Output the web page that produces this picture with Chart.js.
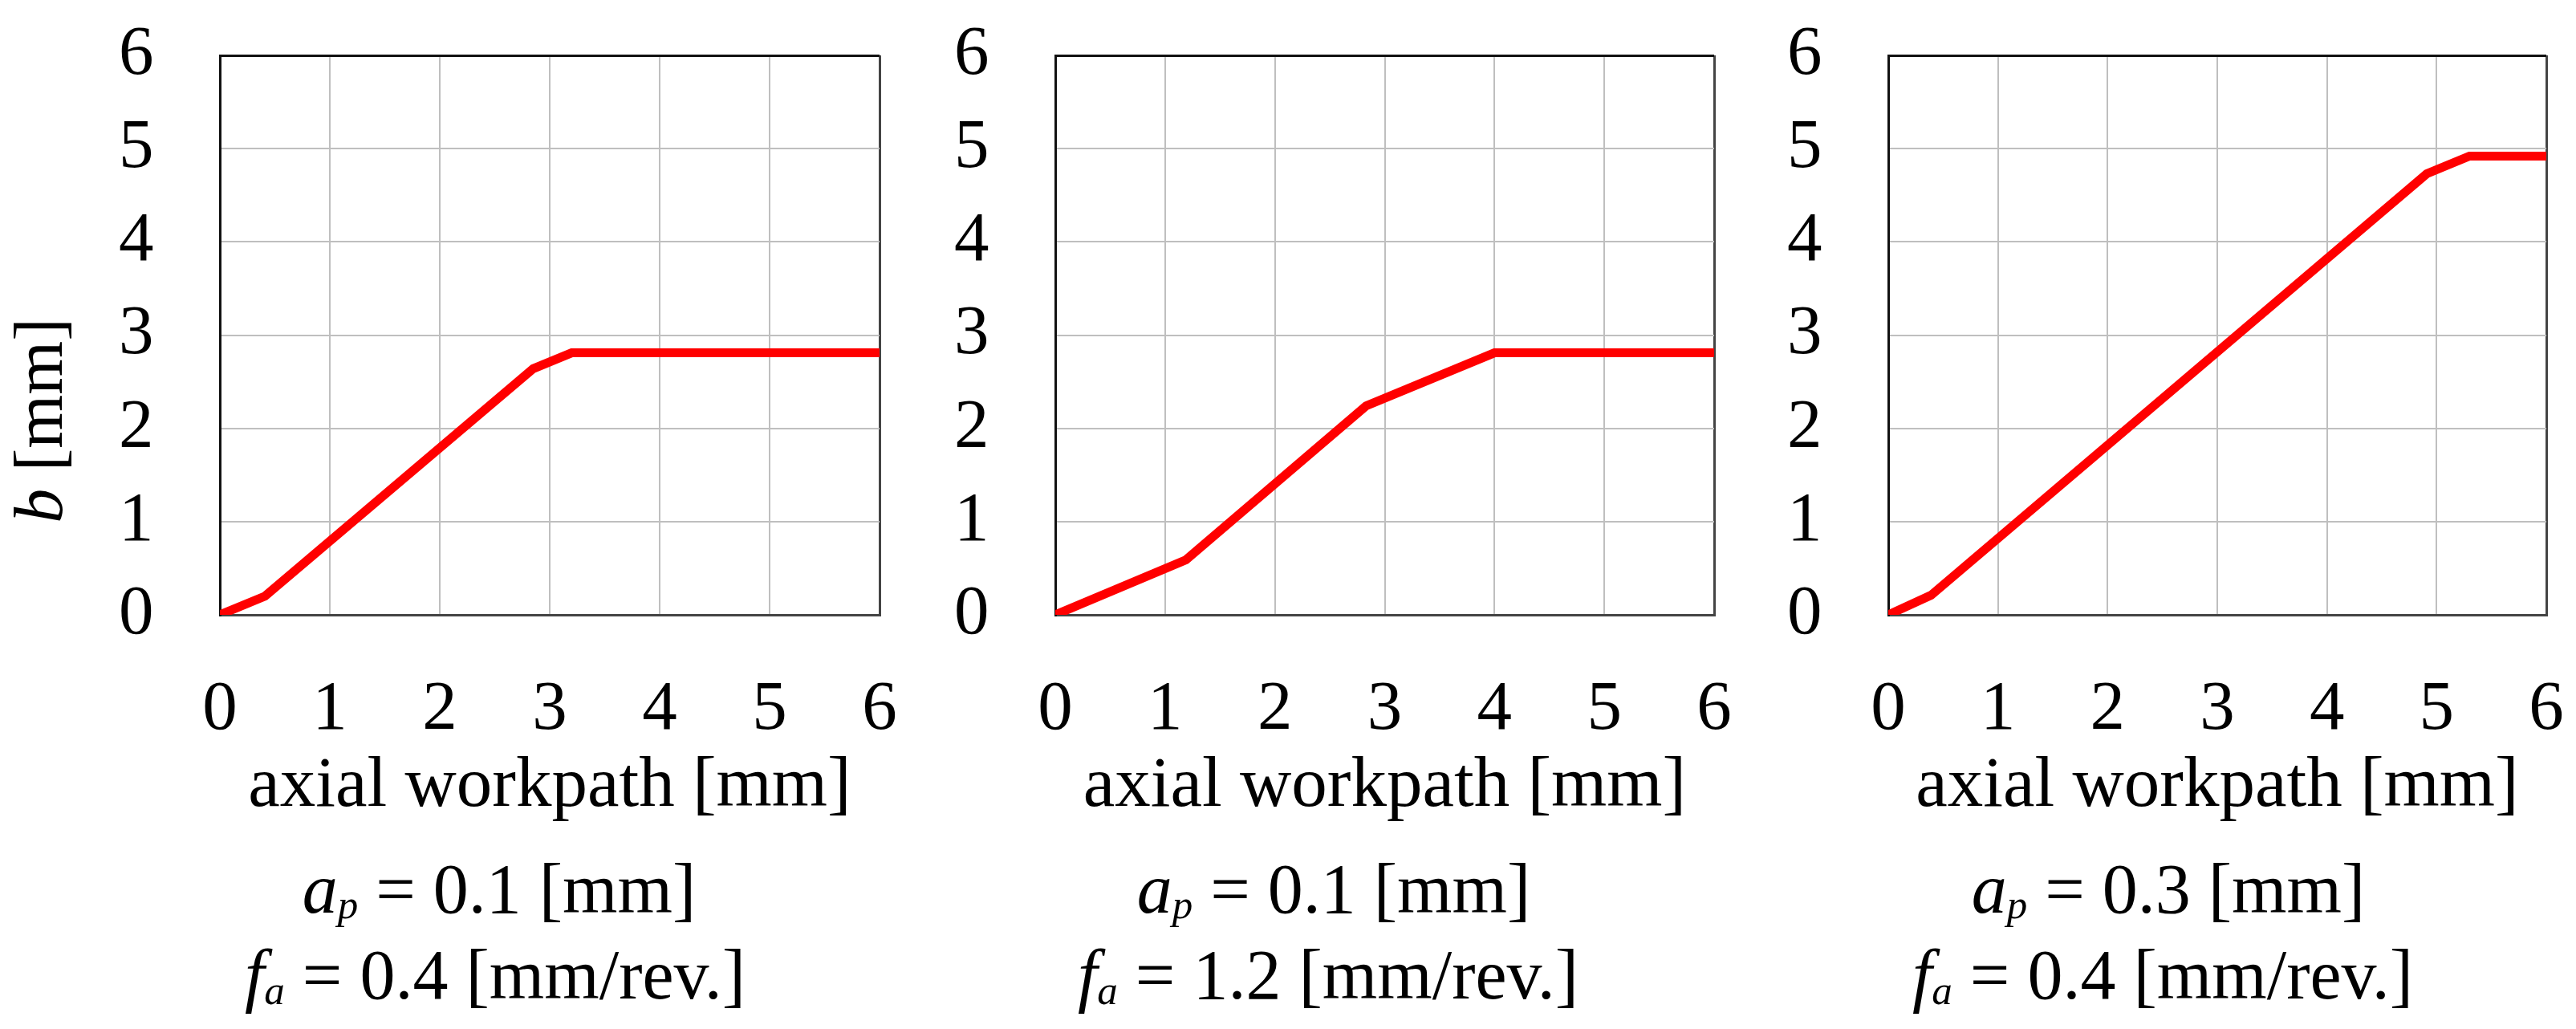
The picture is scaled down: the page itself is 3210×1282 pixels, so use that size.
<!DOCTYPE html>
<html>
<head>
<meta charset="utf-8">
<script src="https://cdn.jsdelivr.net/npm/chart.js@4.4.0/dist/chart.umd.min.js"></script>
<style>
html,body{margin:0;padding:0;background:#fff;}
#wrap{position:relative;width:3210px;height:1282px;overflow:hidden;font-family:'Liberation Serif','Times New Roman',serif;color:#000;background:#fff;}
#wrap canvas{position:absolute;top:0;}
.cap{position:absolute;width:900px;text-align:center;font-size:88px;line-height:100px;height:100px;white-space:nowrap;}
.cap sub{font-size:58%;line-height:0;vertical-align:baseline;position:relative;top:0.14em;font-style:italic;}
.ytitle{position:absolute;width:400px;height:100px;line-height:100px;font-size:86px;text-align:center;transform:rotate(-90deg);white-space:nowrap;}
</style>
</head>
<body>
<div id="wrap"></div>
<script>
// ---- data ----
const xTickLabels = ['0','1','2','3','4','5','6'];
const yTickLabels = ['0','1','2','3','4','5','6'];
const xAxisTitle = 'axial workpath [mm]';
const yAxisTitleVar = 'b';
const yAxisTitleUnit = ' [mm]';

const path1 = [0, 0.41, 2.85, 3.2, 6];
const width1 = [0, 0.2, 2.64, 2.81, 2.81];

const path2 = [0, 1.19, 2.83, 4.0, 6];
const width2 = [0, 0.59, 2.24, 2.81, 2.81];

const path3 = [0, 0.39, 4.91, 5.3, 6];
const width3 = [0, 0.21, 4.73, 4.92, 4.92];

const apValues = ['0.1', '0.1', '0.3'];
const faValues = ['0.4', '1.2', '0.4'];

// ---- layout (not data) ----
const canvasLefts = [0, 1041, 2079];
const plotWidths = [822, 821, 820];
const yLabelLeft = 148;
const yAxisW = 274 - yLabelLeft;
const canvasH = 1050;
const plotTop = 69;
const plotBottom = 766;
const rightPad = 40;
const cap1Centers = [622, 1662, 2702];
const cap2Centers = [617, 1655, 2695];

Chart.defaults.font.family = "'Liberation Serif','Times New Roman',serif";
Chart.defaults.color = '#000';

const wrap = document.getElementById('wrap');
const seriesX = [path1, path2, path3];
const seriesY = [width1, width2, width3];

for (let i = 0; i < 3; i++) {
  const c = document.createElement('canvas');
  const w = 274 + plotWidths[i] + rightPad;
  c.width = w; c.height = canvasH;
  c.style.left = canvasLefts[i] + 'px';
  c.style.width = w + 'px'; c.style.height = canvasH + 'px';
  wrap.appendChild(c);

  const pts = seriesX[i].map((x, k) => ({x: x, y: seriesY[i][k]}));

  new Chart(c.getContext('2d'), {
    type: 'line',
    data: {
      datasets: [{
        data: pts,
        borderColor: '#ff0000',
        borderWidth: 11,
        pointRadius: 0,
        pointHoverRadius: 0,
        tension: 0,
        fill: false
      }]
    },
    options: {
      responsive: false,
      animation: false,
      devicePixelRatio: 1,
      events: [],
      layout: {padding: {top: plotTop, right: rightPad, bottom: 0, left: yLabelLeft}},
      plugins: {legend: {display: false}, tooltip: {enabled: false}, title: {display: false}},
      scales: {
        x: {
          type: 'linear',
          min: 0, max: 6,
          afterBuildTicks: (s) => { s.ticks = xTickLabels.map(t => ({value: Number(t)})); },
          afterFit: (s) => { s.height = canvasH - plotBottom; },
          ticks: {
            callback: (v, idx) => xTickLabels[idx],
            font: {size: 87, lineHeight: '238px'},
            padding: 0,
            maxRotation: 0, minRotation: 0, autoSkip: false, color: '#000'
          },
          grid: {
            drawTicks: false,
            color: (ctx) => ctx.tick && ctx.tick.value === 6 ? '#444' : (ctx.tick && ctx.tick.value === 0 ? '#111' : '#bfbfbf'),
            lineWidth: (ctx) => ctx.tick && (ctx.tick.value === 6 || ctx.tick.value === 0) ? 3 : 2
          },
          border: {display: true, color: '#444', width: 3},
          title: {
            display: true,
            text: xAxisTitle,
            font: {size: 89, lineHeight: 1},
            padding: {top: 0, bottom: 25},
            color: '#000'
          }
        },
        y: {
          type: 'linear',
          min: 0, max: 6,
          afterBuildTicks: (s) => { s.ticks = yTickLabels.map(t => ({value: Number(t)})); },
          afterFit: (s) => { s.width = yAxisW; },
          ticks: {
            callback: (v, idx) => yTickLabels[idx],
            font: {size: 87, lineHeight: 1},
            padding: 0,
            crossAlign: 'far',
            color: '#000'
          },
          grid: {
            drawTicks: false,
            color: (ctx) => ctx.tick && ctx.tick.value === 6 ? '#111' : (ctx.tick && ctx.tick.value === 0 ? '#444' : '#bfbfbf'),
            lineWidth: (ctx) => ctx.tick && (ctx.tick.value === 6 || ctx.tick.value === 0) ? 3 : 2
          },
          border: {display: true, color: '#111', width: 3}
        }
      }
    }
  });

  const l1 = document.createElement('div');
  l1.className = 'cap';
  l1.style.left = (cap1Centers[i] - 450) + 'px';
  l1.style.top = '1058px';
  l1.innerHTML = '<i>a</i><sub>p</sub> = ' + apValues[i] + ' [mm]';
  wrap.appendChild(l1);

  const l2 = document.createElement('div');
  l2.className = 'cap';
  l2.style.left = (cap2Centers[i] - 450) + 'px';
  l2.style.top = '1165px';
  l2.innerHTML = '<i>f</i><sub>a</sub> = ' + faValues[i] + ' [mm/rev.]';
  wrap.appendChild(l2);
}

const yt = document.createElement('div');
yt.className = 'ytitle';
yt.style.left = (48 - 200) + 'px';
yt.style.top = (524 - 50) + 'px';
yt.innerHTML = '<i>' + yAxisTitleVar + '</i>' + yAxisTitleUnit;
wrap.appendChild(yt);
</script>
</body>
</html>
